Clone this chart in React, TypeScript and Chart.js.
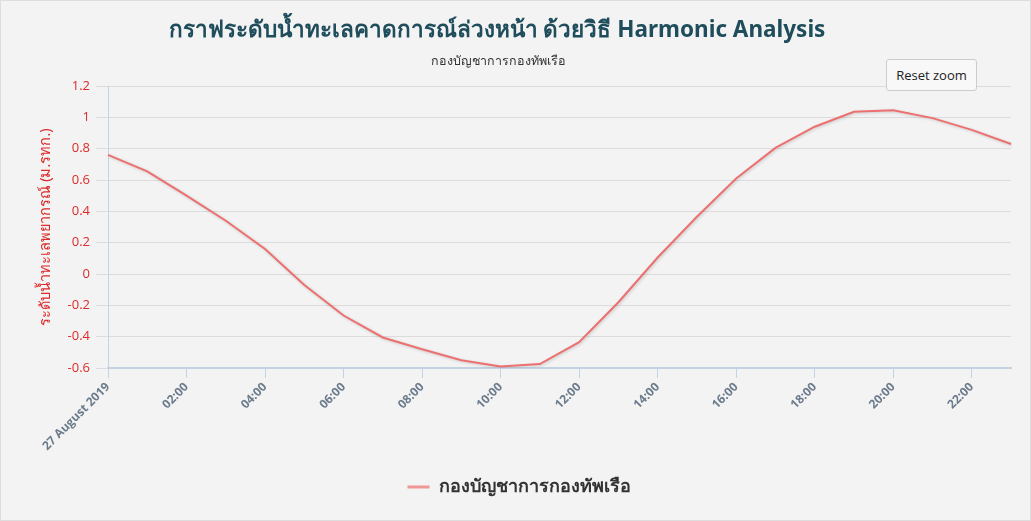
import React, { useEffect, useRef } from "react";
import { Chart, registerables } from "chart.js";

Chart.register(...registerables);

const TITLE = "กราฟระดับน้ำทะเลคาดการณ์ล่วงหน้า ด้วยวิธี Harmonic Analysis";
const SUBTITLE = "กองบัญชาการกองทัพเรือ";
const SERIES_NAME = "กองบัญชาการกองทัพเรือ";
const Y_TITLE = "ระดับน้ำทะเลพยากรณ์ (ม.รทก.)";

const HOUR_LABELS = [
  "27 August 2019", "01:00", "02:00", "03:00", "04:00", "05:00", "06:00", "07:00",
  "08:00", "09:00", "10:00", "11:00", "12:00", "13:00", "14:00", "15:00",
  "16:00", "17:00", "18:00", "19:00", "20:00", "21:00", "22:00", "23:00",
];

const LEVELS = [
  0.76, 0.655, 0.5, 0.34, 0.16, -0.07, -0.265, -0.405,
  -0.48, -0.55, -0.59, -0.575, -0.435, -0.18, 0.105, 0.365,
  0.61, 0.805, 0.94, 1.035, 1.045, 0.995, 0.92, 0.83,
];

const Y_MIN = -0.6;
const Y_MAX = 1.2;
const Y_STEP = 0.2;

const FONT = "'Noto Sans', 'Open Sans', sans-serif";

const shadowPlugin = {
  id: "lineShadow",
  beforeDatasetsDraw(chart: any) {
    const ctx = chart.ctx;
    ctx.save();
    ctx.shadowColor = "rgba(0,0,0,0.18)";
    ctx.shadowBlur = 3;
    ctx.shadowOffsetX = 1;
    ctx.shadowOffsetY = 1;
  },
  afterDatasetsDraw(chart: any) {
    chart.ctx.restore();
  },
};

const headingPlugin = {
  id: "heading",
  afterDraw(chart: any) {
    const ctx = chart.ctx;
    ctx.save();
    ctx.textAlign = "center";
    ctx.textBaseline = "middle";
    ctx.fillStyle = "#1f4d5c";
    ctx.font = `bold 22.5px ${FONT}`;
    ctx.fillText(TITLE, 496, 30);
    ctx.fillStyle = "#333333";
    ctx.font = `12.5px ${FONT}`;
    ctx.fillText(SUBTITLE, 497, 60);
    ctx.restore();
  },
};

export default function App() {
  const canvasRef = useRef<HTMLCanvasElement | null>(null);

  useEffect(() => {
    if (!canvasRef.current) return;
    const chart = new Chart(canvasRef.current, {
      type: "line",
      data: {
        labels: HOUR_LABELS,
        datasets: [
          {
            label: SERIES_NAME,
            data: LEVELS,
            borderColor: "rgb(236,112,112)",
            backgroundColor: "rgb(240,150,150)",
            borderWidth: 2,
            pointRadius: 0,
            pointHoverRadius: 0,
            tension: 0,
            fill: false,
          },
        ],
      },
      options: {
        animation: false,
        responsive: true,
        maintainAspectRatio: false,
        layout: { padding: { top: 85, left: 26, right: 19, bottom: 14 } },
        plugins: {
          title: { display: false },
          subtitle: { display: false },
          legend: {
            display: true,
            position: "bottom",
            labels: {
              boxWidth: 22,
              boxHeight: 3,
              color: "#333333",
              font: { family: FONT, size: 18, weight: "bold" },
              padding: 10,
              generateLabels: (chart: any) =>
                Chart.defaults.plugins.legend.labels.generateLabels(chart).map((l: any) => ({
                  ...l,
                  fillStyle: "rgb(240,150,150)",
                  strokeStyle: "rgba(0,0,0,0)",
                  lineWidth: 0,
                })),
            },
          },
          tooltip: { enabled: false },
        },
        scales: {
          x: {
            type: "category",
            offset: false,
            grid: {
              display: true,
              drawOnChartArea: false,
              drawTicks: true,
              tickLength: 10,
              tickColor: "#c3d3e3",
            },
            border: { display: true, color: "#c3d3e3", width: 2 },
            ticks: {
              autoSkip: false,
              minRotation: 45,
              maxRotation: 45,
              color: "#6b7b8c",
              font: { family: "'Open Sans', sans-serif", size: 12, weight: "bold" },
              padding: 2,
              callback: (_v: any, i: number) => (i % 2 === 0 ? HOUR_LABELS[i] : null),
            },
            afterFit: (scale: any) => {
              scale.height = 100;
            },
          },
          y: {
            min: Y_MIN,
            max: Y_MAX,
            grid: {
              color: "#dcdcdc",
              lineWidth: 1,
              tickLength: 12,
              tickColor: "#dcdcdc",
            },
            border: { display: true, color: "#c3d3e3", width: 1 },
            ticks: {
              stepSize: Y_STEP,
              color: "#dd2a2a",
              font: { family: "'Open Sans', sans-serif", size: 13 },
              padding: 6,
              callback: (v: any) => String(Number(Number(v).toFixed(1))),
            },
            title: {
              display: true,
              text: Y_TITLE,
              color: "#dd2a2a",
              font: { family: FONT, size: 14.5 },
              padding: { top: 10, bottom: 8 },
            },
            afterFit: (scale: any) => {
              scale.width = 81;
            },
          },
        },
      },
      plugins: [shadowPlugin, headingPlugin],
    });
    return () => chart.destroy();
  }, []);

  return (
    <div
      style={{
        position: "absolute",
        left: 0,
        top: 0,
        width: 1031,
        height: 521,
        background: "#f3f3f3",
        boxSizing: "border-box",
        border: "1px solid #dddddd",
      }}
    >
      <canvas ref={canvasRef} />
      <button
        style={{
          position: "absolute",
          left: 885,
          top: 58,
          width: 91,
          height: 32,
          background: "#f8f8f8",
          border: "1px solid #cccccc",
          borderRadius: 3,
          fontFamily: "'Open Sans', sans-serif",
          fontSize: 13,
          color: "#222222",
          padding: 0,
          cursor: "pointer",
        }}
      >
        Reset zoom
      </button>
    </div>
  );
}
